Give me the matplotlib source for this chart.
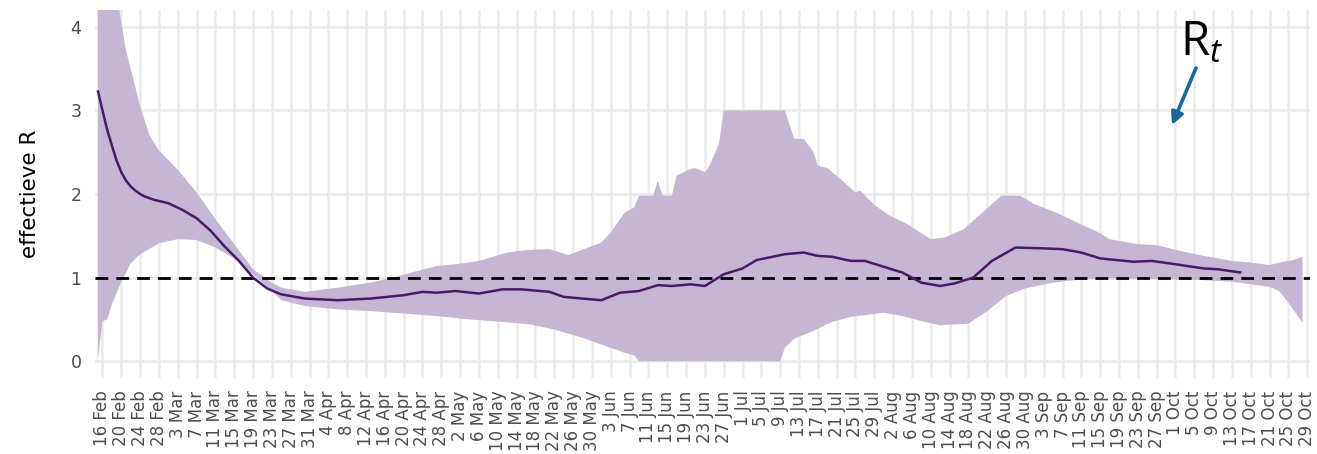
import numpy as np
import matplotlib
matplotlib.use("Agg")
import matplotlib.pyplot as plt

# ---------------- data ----------------
mean_dates = ["2020-02-15", "2020-02-16", "2020-02-17", "2020-02-18", "2020-02-19", "2020-02-20",
              "2020-02-21", "2020-02-22", "2020-02-23", "2020-02-24", "2020-02-25", "2020-02-27",
              "2020-03-01", "2020-03-04", "2020-03-07", "2020-03-10",
              "2020-03-13", "2020-03-16", "2020-03-19", "2020-03-22", "2020-03-25", "2020-03-30",
              "2020-04-06", "2020-04-13", "2020-04-20", "2020-04-24", "2020-04-27", "2020-05-01",
              "2020-05-06", "2020-05-11", "2020-05-15", "2020-05-21", "2020-05-24", "2020-06-01",
              "2020-06-05", "2020-06-09", "2020-06-13", "2020-06-16", "2020-06-20", "2020-06-23",
              "2020-06-27", "2020-07-01", "2020-07-04", "2020-07-10", "2020-07-14", "2020-07-17",
              "2020-07-20", "2020-07-24", "2020-07-27", "2020-07-31", "2020-08-04", "2020-08-08",
              "2020-08-12", "2020-08-15", "2020-08-19", "2020-08-23", "2020-08-28", "2020-09-03",
              "2020-09-07", "2020-09-11", "2020-09-15", "2020-09-22", "2020-09-26", "2020-10-01",
              "2020-10-07", "2020-10-10", "2020-10-15"]
mean_r = [3.24, 3.00, 2.77, 2.58, 2.40, 2.26,
          2.16, 2.09, 2.04, 2.00, 1.97, 1.93,
          1.89, 1.81, 1.71, 1.56,
          1.37, 1.20, 1.00, 0.87, 0.80, 0.75,
          0.73, 0.75, 0.79, 0.83, 0.82, 0.84,
          0.81, 0.86, 0.86, 0.83, 0.77, 0.73,
          0.82, 0.84, 0.91, 0.90, 0.92, 0.90,
          1.04, 1.11, 1.21, 1.28, 1.30, 1.26,
          1.25, 1.20, 1.20, 1.13, 1.06, 0.94,
          0.90, 0.93, 1.00, 1.20, 1.36, 1.35,
          1.34, 1.30, 1.23, 1.19, 1.20, 1.16,
          1.11, 1.10, 1.06]

upper_dates = ["2020-02-15", "2020-02-19", "2020-02-20", "2020-02-21", "2020-02-22", "2020-02-24",
               "2020-02-26", "2020-02-28", "2020-03-03", "2020-03-07", "2020-03-11", "2020-03-15",
               "2020-03-19", "2020-03-23", "2020-03-25", "2020-03-30", "2020-04-06", "2020-04-13",
               "2020-04-19", "2020-04-23", "2020-04-27", "2020-05-01", "2020-05-06", "2020-05-12",
               "2020-05-16", "2020-05-21", "2020-05-25", "2020-06-01", "2020-06-03", "2020-06-06",
               "2020-06-08", "2020-06-09", "2020-06-12", "2020-06-13", "2020-06-14", "2020-06-16",
               "2020-06-17", "2020-06-20", "2020-06-21", "2020-06-23", "2020-06-24", "2020-06-26",
               "2020-06-27", "2020-07-10", "2020-07-12", "2020-07-14", "2020-07-16", "2020-07-17",
               "2020-07-19", "2020-07-22", "2020-07-25", "2020-07-26", "2020-07-29", "2020-08-01",
               "2020-08-05", "2020-08-10", "2020-08-13", "2020-08-17", "2020-08-21", "2020-08-25",
               "2020-08-29", "2020-09-01", "2020-09-06", "2020-09-10", "2020-09-14", "2020-09-17",
               "2020-09-23", "2020-09-27", "2020-10-02", "2020-10-07", "2020-10-13", "2020-10-17",
               "2020-10-21", "2020-10-23", "2020-10-26", "2020-10-28"]
upper_r = [5.00, 4.45, 4.05, 3.72, 3.50, 3.05,
           2.70, 2.52, 2.29, 2.02, 1.70, 1.40,
           1.10, 0.94, 0.88, 0.83, 0.88, 0.94,
           1.02, 1.08, 1.14, 1.16, 1.20, 1.30,
           1.33, 1.34, 1.27, 1.42, 1.54, 1.78,
           1.84, 1.98, 1.98, 2.16, 1.98, 1.98,
           2.22, 2.30, 2.31, 2.26, 2.34, 2.60,
           3.00, 3.00, 2.66, 2.66, 2.51, 2.34,
           2.31, 2.17, 2.02, 2.04, 1.87, 1.75,
           1.64, 1.46, 1.48, 1.58, 1.78, 1.98,
           1.98, 1.88, 1.77, 1.66, 1.56, 1.46,
           1.40, 1.39, 1.32, 1.26, 1.20, 1.18,
           1.15, 1.18, 1.21, 1.25]

lower_dates = ["2020-02-15", "2020-02-16", "2020-02-17", "2020-02-18", "2020-02-20", "2020-02-22",
               "2020-02-24", "2020-02-28", "2020-03-03", "2020-03-07", "2020-03-11", "2020-03-15",
               "2020-03-19", "2020-03-23", "2020-03-25", "2020-03-30", "2020-04-06", "2020-04-13",
               "2020-04-20", "2020-04-27", "2020-05-04", "2020-05-11", "2020-05-17", "2020-05-22",
               "2020-05-28", "2020-06-03", "2020-06-06", "2020-06-08", "2020-06-09", "2020-07-09",
               "2020-07-10", "2020-07-12", "2020-07-16", "2020-07-20", "2020-07-24", "2020-07-31",
               "2020-08-04", "2020-08-08", "2020-08-12", "2020-08-18", "2020-08-22", "2020-08-26",
               "2020-08-30", "2020-09-05", "2020-09-11", "2020-09-18", "2020-09-30", "2020-10-07",
               "2020-10-13", "2020-10-17", "2020-10-21", "2020-10-23", "2020-10-25", "2020-10-28"]
lower_r = [0.00, 0.48, 0.50, 0.68, 0.95, 1.17,
           1.28, 1.41, 1.46, 1.45, 1.36, 1.23,
           1.04, 0.84, 0.73, 0.66, 0.62, 0.60,
           0.57, 0.54, 0.50, 0.47, 0.44, 0.38,
           0.28, 0.16, 0.10, 0.07, 0.00, 0.00,
           0.16, 0.27, 0.36, 0.47, 0.53, 0.58,
           0.54, 0.48, 0.43, 0.45, 0.60, 0.78,
           0.87, 0.94, 0.98, 0.99, 0.98, 0.97,
           0.95, 0.92, 0.89, 0.84, 0.70, 0.46]

tick_labels = ["16 Feb", "20 Feb", "24 Feb", "28 Feb", "3 Mar", "7 Mar", "11 Mar", "15 Mar",
               "19 Mar", "23 Mar", "27 Mar", "31 Mar", "4 Apr", "8 Apr", "12 Apr", "16 Apr",
               "20 Apr", "24 Apr", "28 Apr", "2 May", "6 May", "10 May", "14 May", "18 May",
               "22 May", "26 May", "30 May", "3 Jun", "7 Jun", "11 Jun", "15 Jun", "19 Jun",
               "23 Jun", "27 Jun", "1 Jul", "5 Jul", "9 Jul", "13 Jul", "17 Jul", "21 Jul",
               "25 Jul", "29 Jul", "2 Aug", "6 Aug", "10 Aug", "14 Aug", "18 Aug", "22 Aug",
               "26 Aug", "30 Aug", "3 Sep", "7 Sep", "11 Sep", "15 Sep", "19 Sep", "23 Sep",
               "27 Sep", "1 Oct", "5 Oct", "9 Oct", "13 Oct", "17 Oct", "21 Oct", "25 Oct",
               "29 Oct"]
tick_first = "2020-02-16"
tick_step_days = 4
y_ticks = [0, 1, 2, 3, 4]
reference_r = 1.0

# ---------------- figure ----------------
plt.rcParams["font.family"] = ["DejaVu Sans"]
plt.rcParams["mathtext.fontset"] = "custom"
plt.rcParams["mathtext.rm"] = "Open Sans"
plt.rcParams["mathtext.it"] = "Open Sans:italic"

W, H = 1317, 454
fig = plt.figure(figsize=(W / 100, H / 100), dpi=100)
ax = fig.add_axes([95.4 / W, (H - 378) / H, 1214.6 / W, 368 / H])

md = np.array(mean_dates, dtype="datetime64[D]")
ud = np.array(upper_dates, dtype="datetime64[D]")
ld = np.array(lower_dates, dtype="datetime64[D]")
tick_dates = np.datetime64(tick_first) + np.arange(len(tick_labels)) * tick_step_days

# ribbon
poly_x = np.concatenate([ud, ld[::-1]])
poly_y = np.concatenate([upper_r, lower_r[::-1]])
ax.fill(poly_x, poly_y, color="#c5b7d3", lw=0, zorder=2)

# reference line and mean
ax.axhline(reference_r, color="black", lw=2.0, ls=(0, (4.6, 2.9)), zorder=3)
ax.plot(md, mean_r, color="#4a1a6a", lw=1.8, zorder=4, solid_capstyle="butt")

ax.set_xlim(np.datetime64("2020-02-14") + np.timedelta64(12, "h"),
            np.datetime64("2020-10-29") + np.timedelta64(14, "h"))
ax.set_ylim(-0.2, 4.2)

ax.set_xticks(tick_dates)
ax.set_xticklabels(tick_labels, rotation=90, fontsize=12, color="#4d4d4d")
ax.set_yticks(y_ticks)
ax.set_yticklabels([str(v) for v in y_ticks], fontsize=12.5, color="#4d4d4d")
ax.tick_params(axis="both", length=0)
ax.tick_params(axis="x", pad=9)
ax.tick_params(axis="y", pad=10)
ax.set_ylabel("effectieve R", fontsize=15.5, color="black", labelpad=22)

ax.grid(True, color="#ebebeb", lw=1.8, zorder=0)
ax.set_axisbelow(True)
for s in ax.spines.values():
    s.set_visible(False)

# annotation
fig.text(1180 / W, 1 - 55 / H, r"R$_t$", fontsize=34, family="Open Sans",
         ha="left", va="baseline", color="black")
ax.annotate("", xy=(1172 / W, 1 - 125 / H), xytext=(1196 / W, 1 - 68 / H),
            xycoords="figure fraction", textcoords="figure fraction",
            arrowprops=dict(arrowstyle="-|>", color="#17699b", lw=2.6,
                            mutation_scale=18, shrinkA=0, shrinkB=0))

fig.savefig("out.png", dpi=100)
